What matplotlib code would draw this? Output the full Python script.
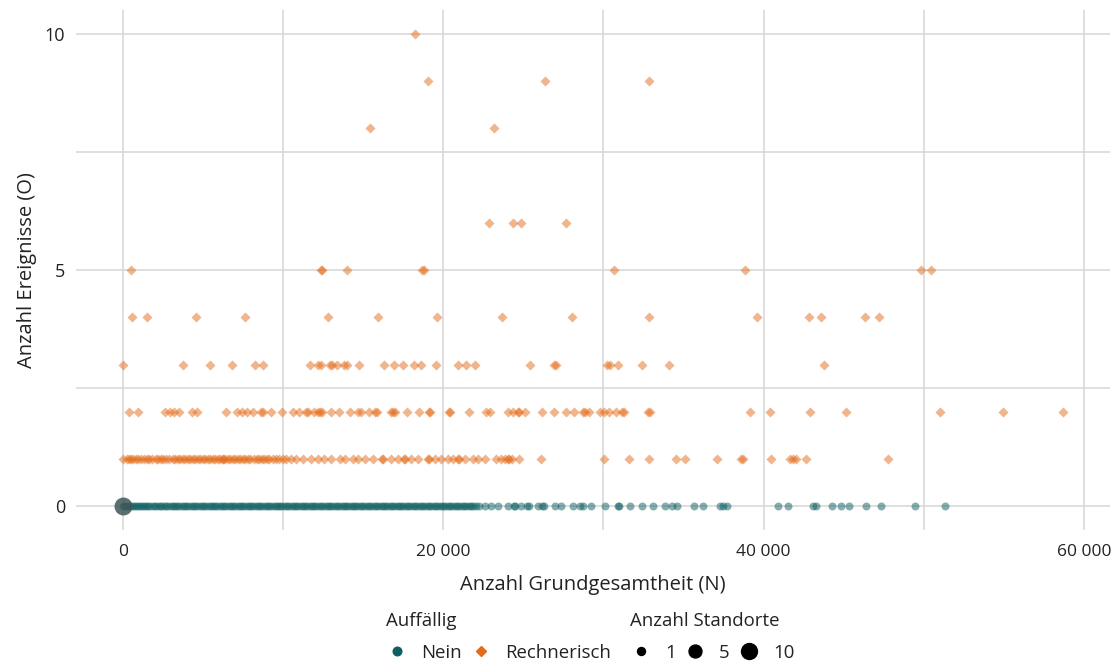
import matplotlib
matplotlib.use("Agg")
import matplotlib.pyplot as plt
import numpy as np
from matplotlib.lines import Line2D
from matplotlib.ticker import FuncFormatter

plt.rcParams['font.family'] = ['Open Sans', 'DejaVu Sans']

# ---------------------------------------------------------------------------
# Data: Grundgesamtheit (N) per Standort, grouped by observed events (O)
# ---------------------------------------------------------------------------
# Auffällig = Nein (all with O = 0)
nein_x = [
    0, 80, 190, 310, 420, 560, 690, 800, 950, 1080, 1200, 1330, 1470, 1590,
    1720, 1880, 2010, 2150, 2290, 2400, 2560, 2700, 2840, 2990, 3110, 3260,
    3390, 3530, 3680, 3800, 3950, 4090, 4220, 4380, 4500, 4650, 4790, 4930,
    5060, 5210, 5350, 5480, 5620, 5770, 5900, 6040, 6190, 6320, 6460, 6600,
    6750, 6880, 7020, 7160, 7300, 7450, 7580, 7720, 7870, 8000, 8150, 8290,
    8420, 8560, 8710, 8840, 8990, 9120, 9260, 9410, 9540, 9690, 9820, 9960,
    10100, 10250, 10380, 10530, 10670, 10800, 10950, 11090, 11230, 11380,
    11510, 11660, 11800, 11940, 12080, 12230, 12370, 12500, 12650, 12790,
    12930, 13080, 13220, 13360, 13500, 13650, 13790, 13920, 14080, 14210,
    14360, 14500, 14640, 14790, 14930, 15070, 15220, 15360, 15500, 15650,
    15790, 15930, 16080, 16220, 16360, 16510, 16650, 16790, 16940, 17080,
    17230, 17370, 17510, 17660, 17800, 17950, 18090, 18230, 18380, 18520,
    18670, 18810, 18960, 19100, 19250, 19390, 19540, 19680, 19830, 19970,
    20120, 20270, 20410, 20560, 20700, 20850, 21000, 21140, 21290, 21440,
    21590, 21730, 21880, 22030, 22200,
    22581, 23000, 23419, 24044, 24400, 24500, 24831, 25250, 25340, 25919,
    26180, 26280, 26956, 27375, 28106, 28519, 28731, 29206, 30125, 30880,
    30960, 31644, 32375, 33106, 33831, 34250, 34563, 35656, 36231, 37256,
    37450, 37688, 40894, 41538, 43110, 43263, 44244, 44819, 45344, 46369,
    47331, 49431, 51325,
]
# Standorte sharing one point (all others count as 1)
nein_cluster_x = [0]
nein_cluster_n = [15]

# Auffällig = Rechnerisch, one list per number of events
rech_o1 = [
    0, 250, 400, 500, 650, 812, 950, 1125, 1333, 1500, 1646, 1800, 2063,
    2200, 2375, 2520, 2688, 2850, 3104, 3250, 3417, 3560, 3729, 3900, 4042,
    4200, 4354, 4500, 4667, 4820, 4979, 5150, 5292, 5450, 5604, 5750, 5917,
    6080, 6229, 6260, 6400, 6542, 6700, 6854, 7000, 7167, 7320, 7479, 7630,
    7792, 7950, 8208, 8360, 8521, 8680, 8833, 9000, 9146, 9354, 9563, 9771,
    9979, 10188, 10500, 10813, 11229, 11750, 12167, 12583, 13000, 13521,
    13833, 14354, 14667, 15083, 15604, 16188, 16230, 16750, 17167, 17583,
    17560, 18000, 18417, 19042, 19080, 19458, 19875, 20292, 20604, 20917,
    20950, 21333, 21854, 22167, 22583, 23313, 23625, 23863, 24056, 24100,
    24294, 24700, 26088, 30038, 31563, 32831, 34556, 35106, 37063, 38575,
    38694, 40463, 41613, 41850, 42044, 42663, 47738,
]
rech_o2 = [
    356, 919, 2625, 2919, 3206, 3500, 4331, 4625, 6438, 7125, 7419, 7750,
    8106, 8600, 8740, 9250, 9919, 10625, 11019, 11450, 11560, 11956, 12200,
    12300, 12456, 13000, 13519, 14144, 14669, 14875, 15331, 15760, 15860,
    16706, 16880, 16960, 17706, 18481, 19100, 19190, 20350, 20440, 21606,
    22644, 22894, 24056, 24344, 24650, 24750, 25106, 26163, 26925, 27688,
    28188, 28720, 28820, 29081, 29794, 30038, 30325, 30750, 31180, 31280,
    32780, 32880, 39125, 40369, 42875, 45150, 51038, 54956, 58688,
]
rech_o3 = [
    0, 3750, 5425, 6813, 8225, 8750, 11675, 12200, 12350, 12950, 13050,
    13375, 13813, 14000, 14750, 16313, 16919, 17469, 18188, 18594, 19525,
    20894, 21419, 21969, 25438, 26900, 27050, 30250, 30400, 30875, 32375,
    34063, 43794,
]
rech_o4 = [
    538, 1500, 4538, 7600, 12775, 15938, 19625, 23688, 28063, 32813, 39563,
    42813, 43563, 46313, 47188,
]
rech_o5 = [488, 12350, 12420, 14000, 18700, 18780, 30625, 38830, 49830, 50420]
rech_o6 = [22856, 24363, 24838, 27663]
rech_o8 = [15394, 23169]
rech_o9 = [19075, 26325, 32831]
rech_o10 = [18213]

x_ticks = [0, 20000, 40000, 60000]
y_ticks = [0, 5, 10]
size_legend = [1, 5, 10]

TEAL = '#0E5F63'
ORANGE = '#E36C1A'
GRID = '#D6D6D6'
TEXT = '#222222'


def marker_area(n):
    """Scatter area (pt^2) for a number of Standorte."""
    return 33.0 * np.asarray(n, dtype=float) ** 0.6


# assemble plotting arrays
rech_rows = {1: rech_o1, 2: rech_o2, 3: rech_o3, 4: rech_o4, 5: rech_o5,
             6: rech_o6, 8: rech_o8, 9: rech_o9, 10: rech_o10}
rech_x = np.concatenate([np.asarray(v, float) for v in rech_rows.values()])
rech_y = np.concatenate([np.full(len(v), k, float) for k, v in rech_rows.items()])

fig = plt.figure(figsize=(11.2, 6.69), dpi=100)
ax = fig.add_axes([76 / 1120, 1 - 530 / 669, (1110 - 76) / 1120, 520 / 669])

ax.scatter(nein_x, np.zeros(len(nein_x)), s=marker_area(1), marker='o',
           color=TEAL, alpha=0.5, linewidths=0, zorder=3)
ax.scatter(nein_cluster_x, np.zeros(len(nein_cluster_x)),
           s=marker_area(nein_cluster_n), marker='o', color='#3F5657',
           alpha=0.85, linewidths=0, zorder=4)
# the diamond glyph spans more than a circle of equal area, so scale it down
ax.scatter(rech_x, rech_y, s=marker_area(1) * 0.8, marker='D',
           color=ORANGE, alpha=0.5, linewidths=0, zorder=3)

ax.set_xlim(-2930, 61620)
ax.set_ylim(-0.5, 10.5)
ax.set_xticks(x_ticks)
ax.set_xticks([10000, 30000, 50000], minor=True)
ax.set_yticks(y_ticks)
ax.set_yticks([2.5, 7.5], minor=True)
ax.xaxis.set_major_formatter(FuncFormatter(lambda v, p: f"{int(v):,}".replace(',', ' ')))
ax.grid(True, which='both', color=GRID, linewidth=1.1, zorder=0)
ax.set_axisbelow(True)
for sp in ax.spines.values():
    sp.set_visible(False)
ax.tick_params(which='both', length=0, labelsize=12.5, colors=TEXT)
ax.tick_params(axis='x', pad=10)
ax.tick_params(axis='y', labelsize=13, pad=8)

ax.set_xlabel('Anzahl Grundgesamtheit (N)', fontsize=14.5, color=TEXT, labelpad=11)
ax.set_ylabel('Anzahl Ereignisse (O)', fontsize=14.5, color=TEXT, labelpad=5)

# legends
LEG_FS = 13.4
common = dict(loc='upper left', frameon=False, fontsize=LEG_FS,
              title_fontsize=LEG_FS, alignment='left', handlelength=1.2,
              handletextpad=0.7, columnspacing=0.42, borderpad=0,
              borderaxespad=0, labelspacing=0.75)
h_col = [Line2D([], [], ls='', marker='o', color=TEAL, markersize=6.2),
         Line2D([], [], ls='', marker='D', color=ORANGE, markersize=5.0)]
leg1 = fig.legend(h_col, ['Nein', 'Rechnerisch'], title='Auffällig', ncol=2,
                  bbox_to_anchor=(386 / 1120, 1 - 612 / 669), **common)
h_size = [Line2D([], [], ls='', marker='o', color='black',
                 markersize=float(np.sqrt(marker_area(n)))) for n in size_legend]
leg2 = fig.legend(h_size, [str(n) for n in size_legend], title='Anzahl Standorte',
                  ncol=3, bbox_to_anchor=(630 / 1120, 1 - 612 / 669), **common)
for lg in (leg1, leg2):
    for t in lg.get_texts():
        t.set_color(TEXT)
    lg.get_title().set_color(TEXT)

fig.savefig('out.png', dpi=100)
